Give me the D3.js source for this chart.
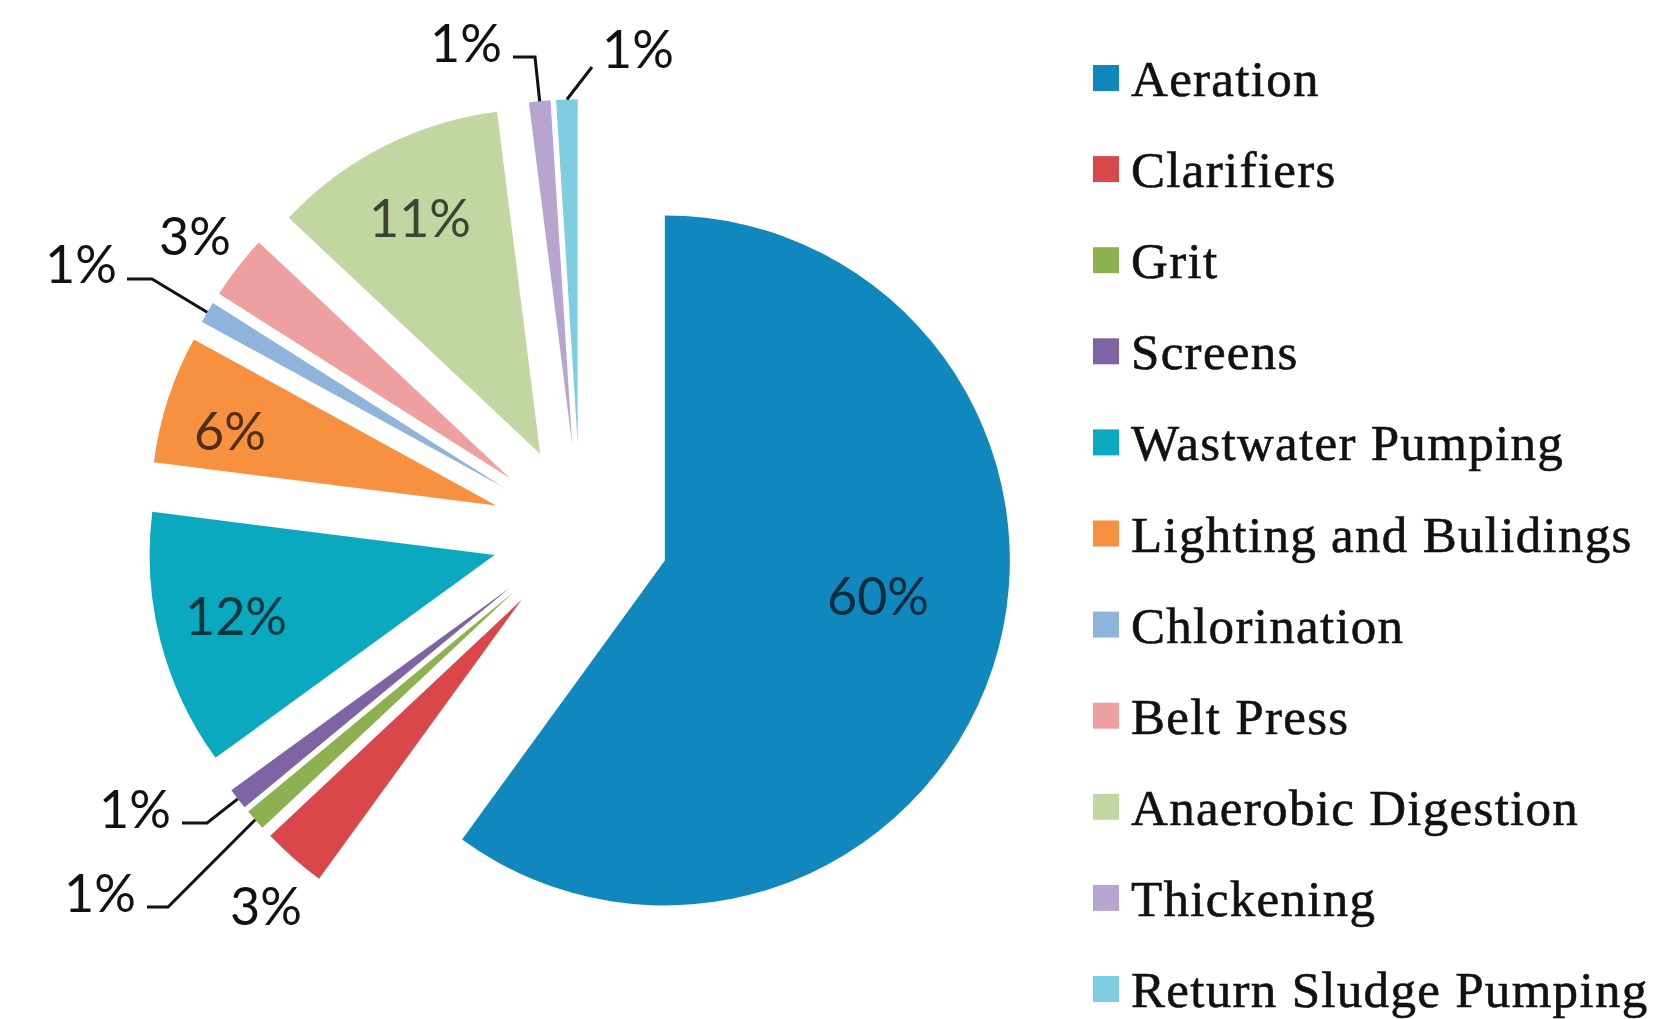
<!DOCTYPE html>
<html>
<head>
<meta charset="utf-8">
<script src="https://cdn.jsdelivr.net/npm/d3@7"></script>
<style>
  html, body { margin: 0; padding: 0; background: #fff; }
  svg { display: block; }
</style>
</head>
<body>
<svg id="chart" width="1653" height="1019"></svg>
<script>
// ---- data ----
const categories = ["Aeration", "Clarifiers", "Grit", "Screens", "Wastwater Pumping",
  "Lighting and Bulidings", "Chlorination", "Belt Press", "Anaerobic Digestion",
  "Thickening", "Return Sludge Pumping"];
const values = [60, 3, 1, 1, 12, 6, 1, 3, 11, 1, 1];
const colors = ["#1088bd", "#d9474a", "#8db050", "#7e63a5", "#0aa9bf",
  "#f8913f", "#8fb4dc", "#ee9f9f", "#c1d6a0", "#b8a5cf", "#7ecde0"];
const valueLabels = values.map(v => v + "%");
const insideLabel = [true, false, false, false, true, true, false, false, true, false, false];

// ---- layout (label placement, not data) ----
const labelX =        [878, 266, 100, 135, 236, 230,  81, 195, 420, 466, 638];
const labelBaseline = [615, 925, 912, 828, 635, 450, 283, 255, 237,  62,  68];
const leaderPoints = [null, null, [[147, 907], [168, 907]], [[182, 823], [207, 823]], null, null,
  [[127, 279], [152, 279]], null, null, [[513, 57], [535, 57]], [[592, 67]]];

const W = 1653, H = 1019;
const cx = 580.5, cy = 533, R = 345, explode = 88.7;

const svg = d3.select("#chart");

const pie = d3.pie().sort(null).value(d => d.value).startAngle(0).endAngle(2 * Math.PI);
const data = categories.map((c, i) => ({ name: c, value: values[i], i }));
const arcs = pie(data);
const arc = d3.arc().innerRadius(0).outerRadius(R);

const color = d3.scaleOrdinal().domain(categories).range(colors);

const g = svg.append("g").attr("transform", `translate(${cx},${cy})`);

function midAngle(d) { return (d.startAngle + d.endAngle) / 2; }
function offset(d, r) {
  const a = midAngle(d);
  return [Math.sin(a) * r, -Math.cos(a) * r];
}

g.selectAll("path.slice")
  .data(arcs)
  .join("path")
  .attr("class", "slice")
  .attr("d", arc)
  .attr("fill", d => color(d.data.name))
  .attr("transform", d => {
    const [dx, dy] = offset(d, explode);
    return `translate(${dx},${dy})`;
  });

// leader lines
const leaderG = svg.append("g");
arcs.forEach((d, i) => {
  const pts = leaderPoints[i];
  if (!pts) return;
  const [ox, oy] = offset(d, explode + R);
  const line = pts.concat([[cx + ox, cy + oy]]);
  leaderG.append("path")
    .attr("d", d3.line()(line))
    .attr("fill", "none")
    .attr("stroke", "#111")
    .attr("stroke-width", 3)
    .attr("stroke-linejoin", "miter");
});

// value labels
svg.append("g").selectAll("text")
  .data(arcs)
  .join("text")
  .attr("x", (d, i) => labelX[i])
  .attr("y", (d, i) => labelBaseline[i])
  .attr("text-anchor", "middle")
  .attr("font-family", "Lato, 'Open Sans', sans-serif")
  .attr("font-size", 52)
  .attr("fill", (d, i) => insideLabel[i] ? d3.color(colors[i]).darker(3.2).formatHex() : "#111")
  .text((d, i) => valueLabels[i]);

// legend
const ly = d3.scalePoint().domain(categories).range([78, 989]);
const legend = svg.append("g");
const items = legend.selectAll("g").data(categories).join("g")
  .attr("transform", d => `translate(0,${ly(d)})`);
items.append("rect")
  .attr("x", 1093).attr("y", -13)
  .attr("width", 26).attr("height", 26)
  .attr("fill", d => color(d));
items.append("text")
  .attr("x", 1131).attr("y", 18)
  .attr("font-family", "'Liberation Serif', 'DejaVu Serif', serif")
  .attr("font-size", 51)
  .attr("letter-spacing", 1.3)
  .attr("fill", "#111")
  .attr("stroke", "#111")
  .attr("stroke-width", 0.6)
  .text(d => d);
</script>
</body>
</html>
